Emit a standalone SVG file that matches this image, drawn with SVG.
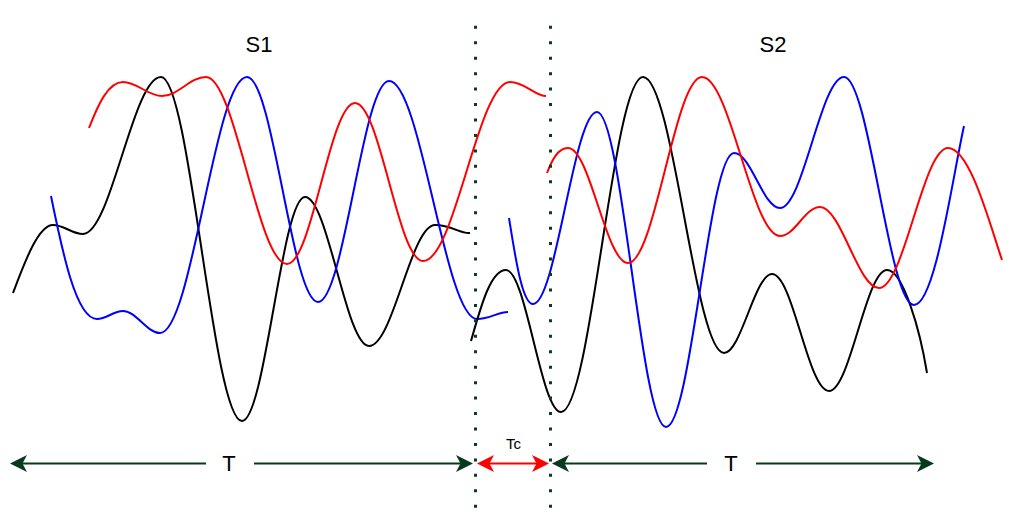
<svg xmlns="http://www.w3.org/2000/svg" width="1024" height="514" viewBox="0 0 1024 514">
<style>
.w{fill:none;stroke-width:2;stroke-linejoin:round;stroke-linecap:butt}
.k{stroke:#000}
.b{stroke:#0000ff}
.r{stroke:#ff0000}
.dot{fill:none;stroke:#0b3a22;stroke-width:3;stroke-dasharray:3 12.45}
.ga{fill:none;stroke:#063a1e;stroke-width:2}
.ra{fill:none;stroke:#ff0000;stroke-width:2}
.lbl{font-family:"Liberation Sans",Arial,sans-serif;fill:#000;text-anchor:middle}
</style>
<defs>
<marker id="ag" markerUnits="userSpaceOnUse" orient="auto-start-reverse" markerWidth="40" markerHeight="40" refX="0" refY="0" overflow="visible"><path d="M12,0 L-5,-8.5 L-0.5,0 L-5,8.5 Z" fill="#063a1e"/></marker>
<marker id="ar" markerUnits="userSpaceOnUse" orient="auto-start-reverse" markerWidth="40" markerHeight="40" refX="0" refY="0" overflow="visible"><path d="M12,0 L-5,-8.5 L-0.5,0 L-5,8.5 Z" fill="#ff0000"/></marker>
</defs>
<rect width="1024" height="514" fill="#fff"/>
<g id="signals">
<path class="w k" d="M13,293 C24,264 38,225 53,225 C64,225 72,234 83,234 C111,234 133,77 161,77 C190,77 213,421 242,421 C265,421 282,197 305,197 C328,197 346,346 369,346 C393,346 411,225 435,225 C452,225 460,234 470,233"/>
<path class="w b" d="M51,196 C62,250 76,319 97,319 C107,319 113,311 123,311 C136,311 147,333 160,333 C192,333 215,77 247,77 C273,77 292,302 318,302 C344,302 363,81 389,81 C421,81 445,319 477,319 C490,319 498,312 508,312"/>
<path class="w r" d="M89,128 C98,105 108,82 123,82 C137,82 148,96 162,96 C178,96 190,77 206,77 C235,77 258,264 287,264 C312,264 330,103 355,103 C380,103 398,261 423,261 C455,261 478,82 510,82 C525,82 535,96 546,96"/>
<path class="w k" d="M471,341 C480,310 490,270 506,270 C526,270 541,412 561,412 C591,412 613,77 643,77 C673,77 695,353 724,353 C741,353 755,274 772,274 C793,274 808,391 829,391 C850,391 866,270 887,270 C903,270 920,330 927,373"/>
<path class="w b" d="M509,218 C515,255 522,304 533,304 C556,304 574,112 597,112 C622,112 641,427 666,427 C691,427 709,153 734,153 C751,153 763,208 780,208 C803,208 821,77 844,77 C869,77 889,305 914,305 C935,305 952,180 964,126"/>
<path class="w r" d="M547,173 C552,160 558,148 568,148 C590,148 606,263 628,263 C655,263 675,77 702,77 C730,77 752,236 780,236 C795,236 805,207 820,207 C841,207 858,288 879,288 C904,288 923,148 948,148 C970,148 990,225 1002,260"/>
</g>
<g id="boundaries">
<line class="dot" x1="475.5" y1="25.8" x2="475.5" y2="510"/>
<line class="dot" x1="550.5" y1="25.8" x2="550.5" y2="510"/>
</g>
<g id="labels">
<text class="lbl" x="259" y="52" font-size="22">S1</text>
<text class="lbl" x="773" y="52" font-size="22">S2</text>
</g>
<g id="connectors">
<path class="ga" d="M206,463.5 L22,463.5" marker-end="url(#ag)"/>
<path class="ga" d="M254,463.5 L461,463.5" marker-end="url(#ag)"/>
<path class="ra" d="M489,463.5 L537,463.5" marker-start="url(#ar)" marker-end="url(#ar)"/>
<path class="ga" d="M707,463.5 L564,463.5" marker-end="url(#ag)"/>
<path class="ga" d="M756,463.5 L922,463.5" marker-end="url(#ag)"/>
</g>
<g id="measure-labels">
<text class="lbl" x="229" y="471" font-size="22">T</text>
<text class="lbl" x="731" y="471" font-size="22">T</text>
<text class="lbl" x="513.5" y="449" font-size="15">Tc</text>
</g>
</svg>
